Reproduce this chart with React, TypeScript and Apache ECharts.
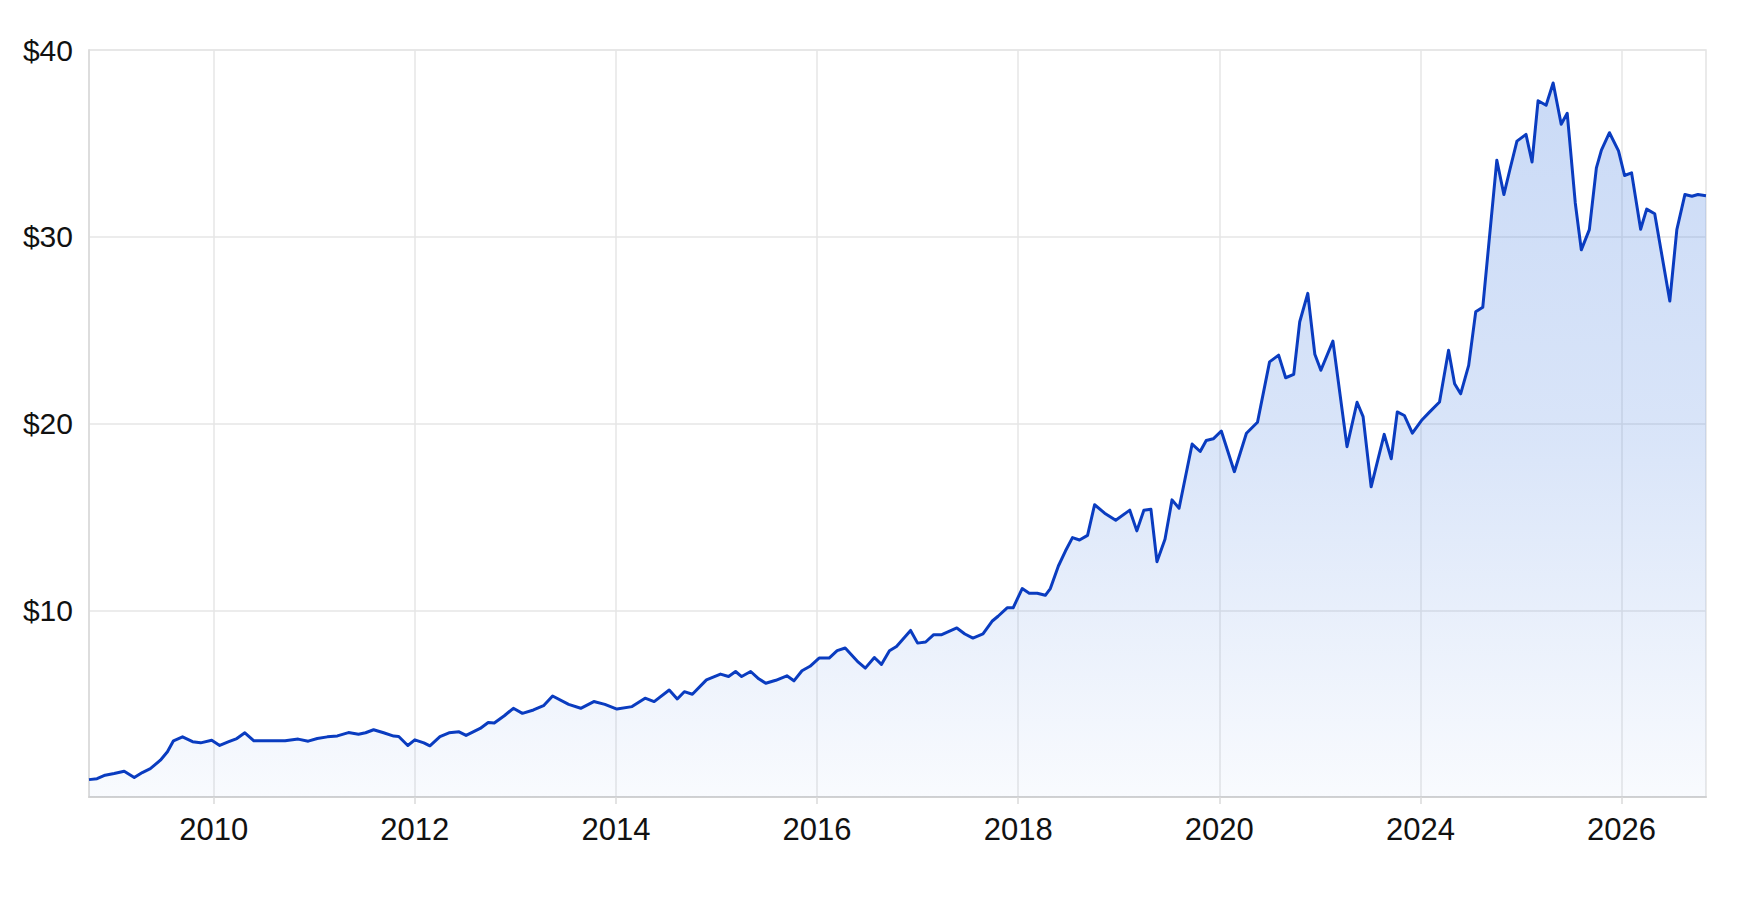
import { useEffect, useRef } from 'react';
import * as echarts from 'echarts';

// decimal years of each observed point, and the price at it
const dates = [
  2008.76, 2008.84, 2008.92, 2009.01, 2009.11, 2009.21, 2009.29, 2009.37, 2009.47, 2009.54,
  2009.6, 2009.69, 2009.79, 2009.87, 2009.98, 2010.06, 2010.15, 2010.23, 2010.31, 2010.4,
  2010.71, 2010.84, 2010.94, 2011.03, 2011.13, 2011.23, 2011.34, 2011.44, 2011.51, 2011.59,
  2011.69, 2011.79, 2011.84, 2011.93, 2012.0, 2012.09, 2012.15, 2012.25, 2012.34, 2012.44,
  2012.51, 2012.65, 2012.73, 2012.79, 2012.89, 2012.98, 2013.07, 2013.18, 2013.28, 2013.37,
  2013.53, 2013.65, 2013.78, 2013.89, 2014.01, 2014.16, 2014.29, 2014.38, 2014.53, 2014.61,
  2014.68, 2014.76, 2014.9, 2015.04, 2015.12, 2015.19, 2015.25, 2015.34, 2015.42, 2015.49,
  2015.59, 2015.7, 2015.77, 2015.85, 2015.93, 2016.02, 2016.12, 2016.2, 2016.28, 2016.41,
  2016.48, 2016.57, 2016.64, 2016.72, 2016.79, 2016.93, 2017.0, 2017.08, 2017.16, 2017.24,
  2017.39, 2017.47, 2017.55, 2017.65, 2017.74, 2017.8, 2017.89, 2017.95, 2018.04, 2018.11,
  2018.19, 2018.27, 2018.32, 2018.4, 2018.47, 2018.54, 2018.61, 2018.69, 2018.76, 2018.86,
  2018.97, 2019.11, 2019.18, 2019.25, 2019.32, 2019.38, 2019.46, 2019.53, 2019.6, 2019.73,
  2019.81, 2019.87, 2019.94, 2020.02, 2020.15, 2020.27, 2020.38, 2020.5, 2020.59, 2020.66,
  2020.74, 2020.8, 2020.88, 2020.95, 2021.01, 2021.13, 2021.27, 2021.37, 2021.43, 2021.51,
  2021.64, 2021.71, 2021.77, 2021.84, 2021.92, 2022.01, 2022.09, 2022.19, 2022.28, 2022.34,
  2022.4, 2022.48, 2022.55, 2022.62, 2022.76, 2022.83, 2022.89, 2022.96, 2023.05, 2023.11,
  2023.17, 2023.25, 2023.32, 2023.4, 2023.46, 2023.54, 2023.6, 2023.68, 2023.75, 2023.8,
  2023.88, 2023.97, 2024.03, 2024.1, 2024.19, 2024.25, 2024.33, 2024.48, 2024.55, 2024.63,
  2024.7, 2024.76, 2024.84,
];

const prices = [
  0.93, 0.98, 1.17, 1.26, 1.38, 1.04, 1.31, 1.52, 1.97, 2.42,
  3.01, 3.22, 2.96, 2.9, 3.04, 2.76, 2.96, 3.13, 3.44, 3.01,
  3.01, 3.1, 2.99, 3.13, 3.22, 3.27, 3.45, 3.36, 3.44, 3.6,
  3.44, 3.26, 3.24, 2.76, 3.06, 2.9, 2.74, 3.23, 3.44, 3.49,
  3.3, 3.67, 3.99, 3.96, 4.35, 4.75, 4.48, 4.66, 4.89, 5.41,
  4.96, 4.75, 5.11, 4.96, 4.71, 4.84, 5.29, 5.11, 5.73, 5.25,
  5.64, 5.5, 6.27, 6.58, 6.45, 6.72, 6.45, 6.72, 6.33, 6.09,
  6.25, 6.49, 6.22, 6.76, 7.0, 7.44, 7.44, 7.84, 7.98, 7.22,
  6.9, 7.47, 7.1, 7.83, 8.06, 8.92, 8.24, 8.3, 8.69, 8.69,
  9.05, 8.73, 8.51, 8.73, 9.41, 9.68, 10.13, 10.13, 11.16, 10.91,
  10.91, 10.8, 11.16, 12.37, 13.17, 13.89, 13.76, 14.01, 15.65, 15.2,
  14.82, 15.36, 14.25, 15.36, 15.41, 12.6, 13.8, 15.91, 15.46, 18.9,
  18.5, 19.09, 19.18, 19.6, 17.42, 19.48, 20.07, 23.3, 23.66, 22.45,
  22.63, 25.45, 26.97, 23.71, 22.85, 24.41, 18.76, 21.14, 20.37, 16.61,
  19.42, 18.11, 20.62, 20.43, 19.48, 20.16, 20.61, 21.15, 23.92, 22.13,
  21.59, 23.11, 25.98, 26.22, 34.1, 32.26, 33.6, 35.12, 35.48, 34.0,
  37.28, 37.04, 38.23, 36.02, 36.61, 31.81, 29.3, 30.38, 33.69, 34.64,
  35.57, 34.6, 33.28, 33.42, 30.4, 31.48, 31.23, 26.56, 30.38, 32.26,
  32.17, 32.26, 32.2,
];

// where the year ticks sit, and the text the chart prints there
const tickYears = [2010, 2012, 2014, 2016, 2018, 2020, 2022, 2024];
const tickLabels = ['2010', '2012', '2014', '2016', '2018', '2020', '2024', '2026'];

const FONT = '"Liberation Sans", Arial, Helvetica, sans-serif';

export default function App() {
  const chartRef = useRef<HTMLDivElement>(null);

  useEffect(() => {
    if (!chartRef.current) return;
    const chart = echarts.init(chartRef.current, null, { renderer: 'svg' });

    const option: echarts.EChartsOption = {
      animation: false,
      backgroundColor: '#ffffff',
      grid: {
        left: 89,
        right: 33,
        top: 50,
        bottom: 107,
        show: true,
        borderColor: '#e3e3e3',
        borderWidth: 1.5,
      },
      xAxis: {
        type: 'value',
        min: 2008.76,
        max: 2024.84,
        axisLine: { show: true, onZero: false, lineStyle: { color: '#d2d2d2', width: 2 } },
        axisTick: {
          show: true,
          length: 7,
          customValues: tickYears,
          lineStyle: { color: '#dadada', width: 1.5 },
        },
        axisLabel: {
          customValues: tickYears,
          margin: 17,
          color: '#111111',
          fontSize: 31,
          fontFamily: FONT,
          formatter: (v: number) => {
            const i = tickYears.indexOf(Math.round(v));
            return i >= 0 ? tickLabels[i] : '';
          },
        },
        splitLine: { show: true, lineStyle: { color: '#e6e6e6', width: 1.5 } },
      },
      yAxis: {
        type: 'value',
        min: 0,
        max: 40,
        interval: 10,
        axisLine: { show: true, lineStyle: { color: '#d8d8d8', width: 1.5 } },
        axisTick: { show: false },
        axisLabel: {
          margin: 16,
          color: '#111111',
          fontSize: 30,
          fontFamily: FONT,
          formatter: (v: number) => (v === 0 ? '' : '$' + v),
        },
        splitLine: { show: true, lineStyle: { color: '#e6e6e6', width: 1.5 } },
      },
      series: [
        {
          type: 'line',
          data: dates.map((d, i) => [d, prices[i]]),
          showSymbol: false,
          symbol: 'none',
          lineStyle: { color: '#0a3cc0', width: 3, join: 'round' },
          areaStyle: {
            color: new echarts.graphic.LinearGradient(0, 0, 0, 1, [
              { offset: 0, color: 'rgba(75, 130, 225, 0.42)' },
              { offset: 0.5, color: 'rgba(75, 130, 225, 0.3)' },
              { offset: 1, color: 'rgba(75, 130, 225, 0.05)' },
            ]),
          },
        },
      ],
    };

    chart.setOption(option);

    const handleResize = () => chart.resize();
    window.addEventListener('resize', handleResize);
    return () => {
      window.removeEventListener('resize', handleResize);
      chart.dispose();
    };
  }, []);

  return (
    <div
      ref={chartRef}
      style={{ position: 'fixed', left: 0, top: 0, width: '100vw', height: '100vh', background: '#fff' }}
    />
  );
}
